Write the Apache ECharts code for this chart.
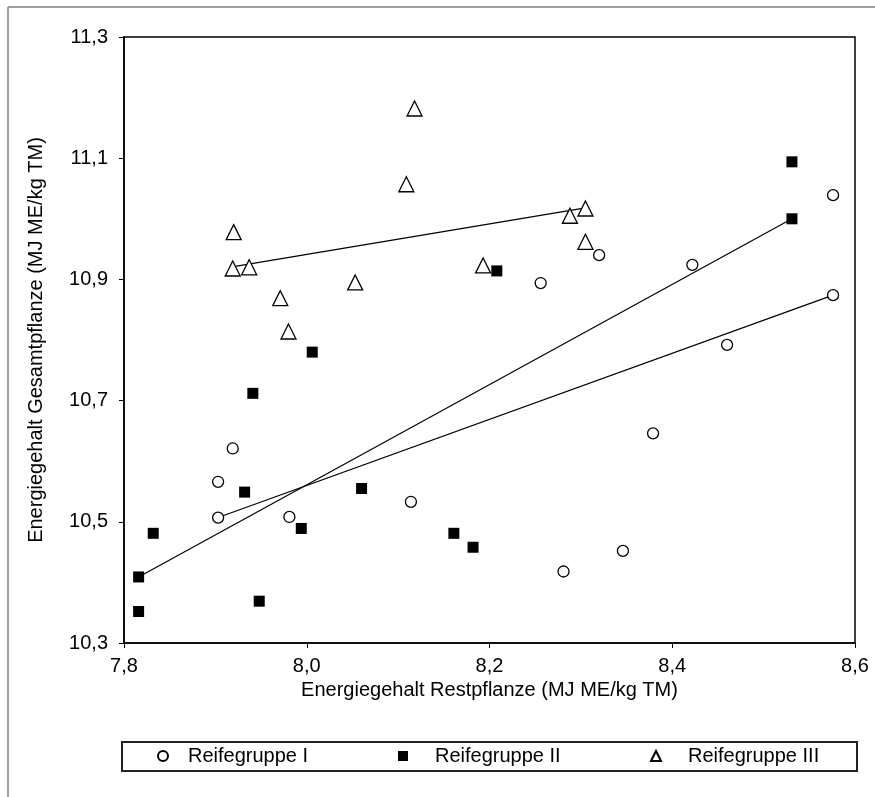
<!DOCTYPE html>
<html>
<head>
<meta charset="UTF-8">
<title>Energiegehalt</title>
<style>
  html, body { margin: 0; padding: 0; background: #fff; }
  #main { width: 875px; height: 797px; }
</style>
<script src="https://cdn.jsdelivr.net/npm/echarts@6/dist/echarts.min.js"></script>
</head>
<body>
<div id="main"></div>
<script>
// Energiegehalt Restpflanze (x) / Gesamtpflanze (y), MJ ME/kg TM
const groupI = [
  [8.576, 11.039], [8.320, 10.940], [8.422, 10.924], [8.256, 10.894],
  [8.576, 10.874], [8.460, 10.792], [8.379, 10.646], [8.346, 10.452],
  [8.281, 10.418], [7.919, 10.621], [7.903, 10.566], [7.903, 10.507],
  [7.981, 10.508], [8.114, 10.533]
]
const groupII = [
  [8.531, 11.094], [8.531, 11.000], [8.208, 10.914], [8.006, 10.780],
  [7.941, 10.712], [7.932, 10.549], [8.060, 10.555], [7.832, 10.481],
  [7.994, 10.489], [8.161, 10.481], [8.182, 10.458], [7.816, 10.409],
  [7.816, 10.352], [7.948, 10.369]
]
const groupIII = [
  [8.118, 11.182], [8.109, 11.057], [7.920, 10.978], [7.919, 10.918],
  [7.937, 10.920], [7.971, 10.869], [8.053, 10.895], [7.980, 10.814],
  [8.305, 11.017], [8.288, 11.005], [8.305, 10.962], [8.193, 10.923]
]
// Trendlinien (Endpunkte aus dem Bild gelesen)
const trendI = [[7.903, 10.507], [8.576, 10.874]]
const trendII = [[7.816, 10.409], [8.531, 11.000]]
const trendIII = [[7.920, 10.921], [8.305, 11.018]]

const xTicks = [7.8, 8.0, 8.2, 8.4, 8.6]
const yTicks = [10.3, 10.5, 10.7, 10.9, 11.1, 11.3]
const names = ['Reifegruppe I', 'Reifegruppe II', 'Reifegruppe III']

const font = "'Liberation Sans', Arial, sans-serif"
const fmt = v => Number(v).toFixed(1).replace('.', ',')

function legendAt(name, left, pad) {
  return {
    data: [name],
    left: left,
    top: 746,
    padding: 0,
    itemWidth: 10,
    itemHeight: 10,
    selectedMode: false,
    textStyle: { fontFamily: font, fontSize: 20, color: '#000', padding: [0, 0, 0, pad] }
  }
}

function trend(data) {
  return {
    type: 'line',
    data: data,
    symbol: 'none',
    silent: true,
    lineStyle: { color: '#000', width: 1.2 },
    z: 1
  }
}

let chart = echarts.init(document.getElementById('main'))
chart.setOption({
  animation: false,
  backgroundColor: '#fff',
  textStyle: { fontFamily: font },
  grid: {
    left: 124, right: 20, top: 37, bottom: 154,
    show: true, borderColor: '#000', borderWidth: 1.5, backgroundColor: 'transparent'
  },
  xAxis: {
    type: 'value',
    min: 7.8, max: 8.6,
    name: 'Energiegehalt Restpflanze (MJ ME/kg TM)',
    nameLocation: 'middle',
    nameGap: 31,
    nameTextStyle: { fontFamily: font, fontSize: 20, color: '#000' },
    axisLine: { show: true, lineStyle: { color: '#000', width: 1.5 } },
    axisTick: { show: true, length: 5, customValues: xTicks, lineStyle: { color: '#000' } },
    axisLabel: { customValues: xTicks, margin: 13, fontSize: 20, color: '#000', formatter: fmt },
    splitLine: { show: false }
  },
  yAxis: {
    type: 'value',
    min: 10.3, max: 11.3,
    name: 'Energiegehalt Gesamtpflanze (MJ ME/kg TM)',
    nameLocation: 'middle',
    nameGap: 78,
    nameRotate: 90,
    nameTextStyle: { fontFamily: font, fontSize: 20, color: '#000' },
    axisLine: { show: true, lineStyle: { color: '#000', width: 1.5 } },
    axisTick: { show: true, length: 5, customValues: yTicks, lineStyle: { color: '#000' } },
    axisLabel: { customValues: yTicks, margin: 16, fontSize: 20, color: '#000', formatter: fmt },
    splitLine: { show: false }
  },
  legend: [
    legendAt(names[0], 157, 15),
    legendAt(names[1], 398, 22),
    legendAt(names[2], 650, 22)
  ],
  graphic: [
    { type: 'line', shape: { x1: 8, y1: 7, x2: 875, y2: 7 }, style: { stroke: '#808080', lineWidth: 1.5 } },
    { type: 'line', shape: { x1: 8, y1: 7, x2: 8, y2: 797 }, style: { stroke: '#808080', lineWidth: 1.5 } },
    { type: 'rect', shape: { x: 122, y: 742, width: 735, height: 29 }, style: { fill: 'none', stroke: '#222', lineWidth: 2 } }
  ],
  series: [
    trend(trendI),
    trend(trendII),
    trend(trendIII),
    {
      name: names[0], type: 'scatter', data: groupI,
      symbol: 'circle', symbolSize: 11,
      itemStyle: { color: '#fff', borderColor: '#000', borderWidth: 1.3, opacity: 1 },
      z: 3
    },
    {
      name: names[1], type: 'scatter', data: groupII,
      symbol: 'rect', symbolSize: 11,
      itemStyle: { color: '#000', opacity: 1 },
      z: 3
    },
    {
      name: names[2], type: 'scatter', data: groupIII,
      symbol: 'triangle', symbolSize: 15,
      itemStyle: { color: '#fff', borderColor: '#000', borderWidth: 1.3, opacity: 1 },
      z: 3
    }
  ]
})
</script>
</body>
</html>
